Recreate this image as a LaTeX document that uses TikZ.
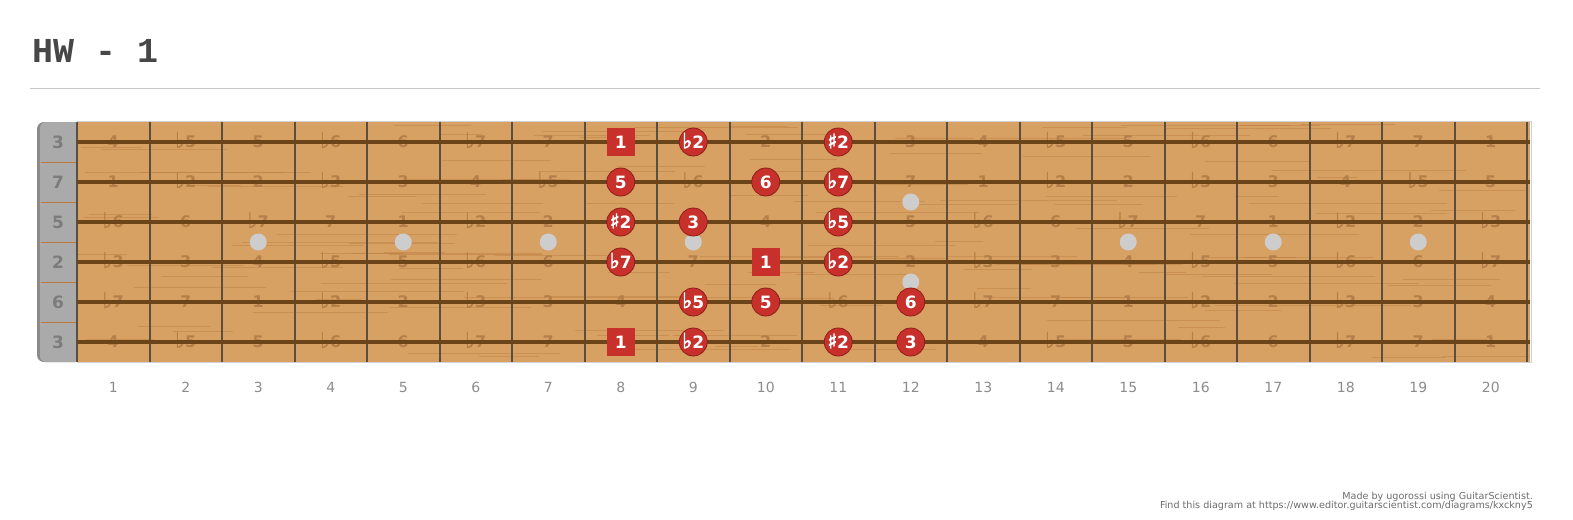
\documentclass[tikz,border=0pt]{standalone}
\usepackage{fontspec}
\setmainfont{DejaVu Sans}
\newfontfamily\titlefont{Liberation Mono}
\newfontfamily\accfont{DejaVu Sans}[FakeBold=3]
\definecolor{wood}{HTML}{D8A164}
\definecolor{woodgrain}{HTML}{B97C3E}
\definecolor{woodtext}{HTML}{B3804A}
\definecolor{stringbrown}{HTML}{6B4419}
\definecolor{fretbrown}{HTML}{5A4E42}
\definecolor{nutgray}{HTML}{AAAAAA}
\definecolor{nutdark}{HTML}{8A8A8A}
\definecolor{inlay}{HTML}{CDCDCD}
\definecolor{notered}{HTML}{C8302B}
\definecolor{notedark}{HTML}{8E1E1A}
\definecolor{labelgray}{HTML}{8C8C8C}
\tikzset{
  title text/.style={font=\titlefont\bfseries\fontsize{35}{35}\selectfont, text=black!72, inner sep=0pt},
  rule line/.style={draw=black!22, line width=0.8pt},
  fret line/.style={draw=fretbrown, line width=2pt},
  string line/.style={draw=stringbrown, line width=3.2pt},
  grain/.style={draw=woodgrain, line width=0.7pt, opacity=0.45},
  nut label/.style={font=\bfseries\fontsize{17}{17}\selectfont, text=nutdark!90!black},
  ghost label/.style={font=\bfseries\fontsize{16}{16}\selectfont, text=woodtext},
  inlay dot/.style={circle, fill=inlay, inner sep=0pt, minimum size=17pt},
  note/.style={circle, fill=notered, draw=notedark, line width=0.8pt, minimum size=28pt,
    inner sep=0pt, text=white, font=\bfseries\fontsize{17}{17}\selectfont},
  root note/.style={note, rectangle, draw=none, minimum size=28pt},
  fret number/.style={font=\fontsize{14}{14}\selectfont, text=labelgray},
  footer/.style={font=\fontsize{9.6}{9.6}\selectfont, text=black!58, inner sep=0pt, anchor=base east},
}
\newcommand\fl{\smash{\accfont\fontsize{21}{17}\selectfont ♭}}
\newcommand\sh{\smash{\accfont\fontsize{20}{17}\selectfont ♯}}
\newcommand\ivname[1]{\ifcase#1 1\or \fl2\or 2\or \fl3\or 3\or 4\or \fl5\or 5\or \fl6\or 6\or \fl7\or 7\fi}

\begin{document}
\begin{tikzpicture}[x=1pt, y=-1pt]
  \useasboundingbox (0,0) rectangle (1573,519);
  \node[title text, anchor=base west] (title) at (32,63) {HW - 1};
  \draw[rule line] (30,88) -- (1540,88);

  % nut and board
  \fill[nutdark, rounded corners=7pt] (37,122) rectangle (82,362);
  \fill[nutgray, rounded corners=6pt] (40,122) rectangle (82,362);
  \fill[wood] (77,122) rectangle (1530,362);
  \draw[black!18, line width=1pt] (77,121.5) -- (1531,121.5) -- (1531,362.5) -- (77,362.5);
  \pgfmathsetseed{11}
  \foreach \i in {1,...,140} {
    \pgfmathsetmacro\gy{124+236*rnd}
    \pgfmathsetmacro\gx{77+1400*rnd}
    \pgfmathsetmacro\gl{40+160*rnd}
    \draw[grain] (\gx,\gy) -- ({min(\gx+\gl,1529)},\gy);
  }
  \foreach \s in {1,...,5}
    \draw[woodgrain, line width=0.6pt] (41,122+40*\s) -- (77,122+40*\s);
  \foreach \s/\open in {1/3,2/7,3/5,4/2,5/6,6/3}
    \node[nut label] (nut\s) at (58,102+40*\s) {\open};

  % faint interval names
  \foreach \s/\o in {1/4,2/11,3/7,4/2,5/9,6/4}
    \foreach \f in {1,...,20} {
      \pgfmathtruncatemacro\iv{mod(\o+\f,12)}
      \node[ghost label] (g\s-\f) at (77+72.5*\f-36.25,102+40*\s) {\ivname{\iv}};
    }

  \foreach \f in {1,...,20}
    \draw[fret line] (77+72.5*\f,122) -- (77+72.5*\f,362);
  \draw[fret line] (77,122) -- (77,362);
  \foreach \s in {1,...,6}
    \draw[string line] (77,102+40*\s) -- (1530,102+40*\s);

  % inlays
  \foreach \f in {3,5,7,9,15,17,19}
    \node[inlay dot] (dot\f) at (77+72.5*\f-36.25,242) {};
  \node[inlay dot] (dot12a) at (910.75,202) {};
  \node[inlay dot] (dot12b) at (910.75,282) {};

  % scale notes
  \node[root note] (s1f8)  at (620.75,142) {1};
  \node[note]      (s1f9)  at (693.25,142) {\fl2};
  \node[note]      (s1f11) at (838.25,142) {\sh2};
  \node[note]      (s2f8)  at (620.75,182) {5};
  \node[note]      (s2f10) at (765.75,182) {6};
  \node[note]      (s2f11) at (838.25,182) {\fl7};
  \node[note]      (s3f8)  at (620.75,222) {\sh2};
  \node[note]      (s3f9)  at (693.25,222) {3};
  \node[note]      (s3f11) at (838.25,222) {\fl5};
  \node[note]      (s4f8)  at (620.75,262) {\fl7};
  \node[root note] (s4f10) at (765.75,262) {1};
  \node[note]      (s4f11) at (838.25,262) {\fl2};
  \node[note]      (s5f9)  at (693.25,302) {\fl5};
  \node[note]      (s5f10) at (765.75,302) {5};
  \node[note]      (s5f12) at (910.75,302) {6};
  \node[root note] (s6f8)  at (620.75,342) {1};
  \node[note]      (s6f9)  at (693.25,342) {\fl2};
  \node[note]      (s6f11) at (838.25,342) {\sh2};
  \node[note]      (s6f12) at (910.75,342) {3};

  % fret numbers
  \foreach \f in {1,...,20}
    \node[fret number] (num\f) at (77+72.5*\f-36.25,387) {\f};

  \node[footer] (made) at (1533,499) {Made by ugorossi using GuitarScientist.};
  \node[footer] (find) at (1533,508) {Find this diagram at https://www.editor.guitarscientist.com/diagrams/kxckny5};
\end{tikzpicture}
\end{document}
